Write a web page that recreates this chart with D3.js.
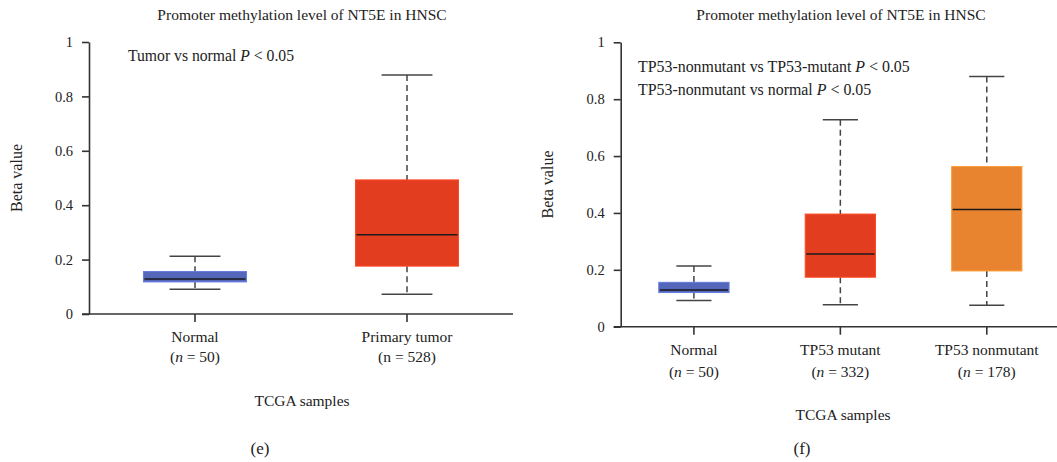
<!DOCTYPE html>
<html>
<head>
<meta charset="utf-8">
<script src="https://cdn.jsdelivr.net/npm/d3@7"></script>
<style>
  body { margin: 0; background: #fff; }
  text { font-family: "Liberation Serif", "DejaVu Serif", serif; fill: #222; }
</style>
</head>
<body>
<svg id="chart" width="1057" height="462"></svg>
<script>
// Panel (e): normal vs primary tumor
var eCategories = ["Normal", "Primary tumor"];
var eCounts = ["50", "528"];
var eItalicN = [true, false];
var eMin = [0.091, 0.073];
var eQ1 = [0.118, 0.176];
var eMedian = [0.129, 0.291];
var eQ3 = [0.156, 0.493];
var eMax = [0.212, 0.879];
var eColors = ["#5366ba", "#e33d1f"];
var eNotes = ["Tumor vs normal"];

// Panel (f): normal vs TP53 mutant vs TP53 nonmutant
var fCategories = ["Normal", "TP53 mutant", "TP53 nonmutant"];
var fCounts = ["50", "332", "178"];
var fItalicN = [true, true, true];
var fMin = [0.092, 0.077, 0.075];
var fQ1 = [0.120, 0.174, 0.196];
var fMedian = [0.129, 0.256, 0.412];
var fQ3 = [0.156, 0.396, 0.563];
var fMax = [0.213, 0.728, 0.880];
var fColors = ["#5366ba", "#e33d1f", "#e8832f"];
var fNotes = ["TP53-nonmutant vs TP53-mutant", "TP53-nonmutant vs normal"];

var yTicks = [0, 0.2, 0.4, 0.6, 0.8, 1];
var chartTitle = "Promoter methylation level of NT5E in HNSC";

var svg = d3.select("#chart");

function drawPanel(p) {
  var g = svg.append("g");

  var x = d3.scaleBand().domain(p.categories).range([p.left, p.right]).padding(0);
  var y = d3.scaleLinear().domain([0, 1]).range([p.bottom, p.top]);

  var rows = p.categories.map(function (c, i) {
    return { key: c, min: p.min[i], q1: p.q1[i], med: p.median[i], q3: p.q3[i], max: p.max[i], color: p.colors[i] };
  });

  var bw = x.bandwidth() * p.boxFrac;
  var cw = x.bandwidth() * p.capFrac;
  function cx(d) { return x(d.key) + x.bandwidth() / 2; }

  var box = g.selectAll("g.box").data(rows).enter().append("g").attr("class", "box");

  // dashed whiskers
  box.append("line")
    .attr("x1", cx).attr("x2", cx)
    .attr("y1", function (d) { return y(d.max); })
    .attr("y2", function (d) { return y(d.q3); })
    .attr("stroke", "#444").attr("stroke-width", 1.5).attr("stroke-dasharray", "6,4");
  box.append("line")
    .attr("x1", cx).attr("x2", cx)
    .attr("y1", function (d) { return y(d.q1); })
    .attr("y2", function (d) { return y(d.min); })
    .attr("stroke", "#444").attr("stroke-width", 1.5).attr("stroke-dasharray", "6,4");

  // caps
  ["min", "max"].forEach(function (k) {
    box.append("line")
      .attr("x1", function (d) { return cx(d) - cw / 2; })
      .attr("x2", function (d) { return cx(d) + cw / 2; })
      .attr("y1", function (d) { return y(d[k]); })
      .attr("y2", function (d) { return y(d[k]); })
      .attr("stroke", "#444").attr("stroke-width", 1.5);
  });

  // boxes
  box.append("rect")
    .attr("x", function (d) { return cx(d) - bw / 2; })
    .attr("width", bw)
    .attr("y", function (d) { return y(d.q3); })
    .attr("height", function (d) { return y(d.q1) - y(d.q3); })
    .attr("fill", function (d) { return d.color; })
    .attr("stroke", function (d) { return d3.color(d.color).brighter(0.5); })
    .attr("stroke-width", 1);

  // median
  box.append("line")
    .attr("x1", function (d) { return cx(d) - bw / 2 + 1; })
    .attr("x2", function (d) { return cx(d) + bw / 2 - 1; })
    .attr("y1", function (d) { return y(d.med); })
    .attr("y2", function (d) { return y(d.med); })
    .attr("stroke", "#1a1a1a").attr("stroke-width", 1.5);

  // axes
  var yAxis = g.append("g")
    .attr("transform", "translate(" + p.left + ",0)")
    .call(d3.axisLeft(y).tickValues(yTicks).tickFormat(d3.format("~g")).tickSize(7).tickSizeOuter(0).tickPadding(9));
  var xAxis = g.append("g")
    .attr("transform", "translate(0," + p.bottom + ")")
    .call(d3.axisBottom(x).tickSize(8).tickSizeOuter(0).tickFormat(""));
  [yAxis, xAxis].forEach(function (a) {
    a.select(".domain").attr("stroke", "#333").attr("stroke-width", 1.6);
    a.selectAll(".tick line").attr("stroke", "#333").attr("stroke-width", 1.6);
    a.selectAll(".tick text").style("font-family", '"Liberation Serif", serif').style("font-size", "14.5px").attr("fill", "#222");
  });
  xAxis.select(".domain").attr("d", "M" + (p.left - 7) + ",0H" + p.right);

  // category labels
  p.categories.forEach(function (c, i) {
    var tx = x(c) + x.bandwidth() / 2;
    g.append("text").attr("x", tx).attr("y", p.bottom + p.lab1).attr("text-anchor", "middle")
      .style("font-size", "15.5px").text(c);
    var t = g.append("text").attr("x", tx).attr("y", p.bottom + p.lab2).attr("text-anchor", "middle")
      .style("font-size", "15.5px");
    t.append("tspan").text("(");
    t.append("tspan").style("font-style", p.italicN[i] ? "italic" : "normal").text("n");
    t.append("tspan").text(" = " + p.counts[i] + ")");
  });

  // title, notes, axis labels
  g.append("text").attr("x", p.titleX).attr("y", 20).attr("text-anchor", "middle")
    .style("font-size", "15.5px").text(chartTitle);
  p.notes.forEach(function (n, i) {
    var t = g.append("text").attr("x", p.noteX).attr("y", p.noteY + i * 23).style("font-size", p.noteSize);
    t.append("tspan").text(n + " ");
    t.append("tspan").style("font-style", "italic").text("P");
    t.append("tspan").text(" < 0.05");
  });
  g.append("text")
    .attr("transform", "translate(" + p.yLabX + "," + ((p.top + p.bottom) / 2) + ") rotate(-90)")
    .attr("text-anchor", "middle").style("font-size", "16px").text("Beta value");
  g.append("text").attr("x", p.xLabX).attr("y", p.xLabY).attr("text-anchor", "middle")
    .style("font-size", "15.5px").text("TCGA samples");
  g.append("text").attr("x", p.tagX).attr("y", 454).attr("text-anchor", "middle")
    .style("font-size", "17px").text(p.tag);
}

drawPanel({
  categories: eCategories, counts: eCounts, italicN: eItalicN,
  min: eMin, q1: eQ1, median: eMedian, q3: eQ3, max: eMax, colors: eColors, notes: eNotes,
  left: 89, right: 513, top: 42, bottom: 314, boxFrac: 0.486, capFrac: 0.24,
  lab1: 28, lab2: 48, titleX: 302, noteX: 128, noteY: 61, noteSize: "15.7px",
  yLabX: 22, xLabX: 302, xLabY: 406, tagX: 260, tag: "(e)"
});

drawPanel({
  categories: fCategories, counts: fCounts, italicN: fItalicN,
  min: fMin, q1: fQ1, median: fMedian, q3: fQ3, max: fMax, colors: fColors, notes: fNotes,
  left: 620.7, right: 1060, top: 42.3, bottom: 326.7, boxFrac: 0.48, capFrac: 0.24,
  lab1: 28, lab2: 50, titleX: 841, noteX: 638, noteY: 72, noteSize: "15.9px",
  yLabX: 553, xLabX: 843, xLabY: 420, tagX: 802, tag: "(f)"
});
</script>
</body>
</html>
